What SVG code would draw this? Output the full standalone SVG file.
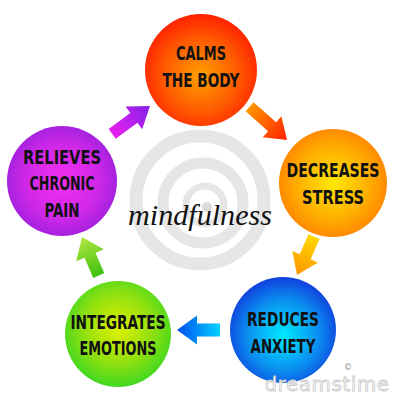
<svg xmlns="http://www.w3.org/2000/svg" width="400" height="400" viewBox="0 0 400 400">
<defs>
<radialGradient id="gRed" cx="0.5" cy="0.55" r="0.55"><stop offset="0" stop-color="#ffa000"/><stop offset="0.6" stop-color="#ff5a00"/><stop offset="1" stop-color="#ff2200"/></radialGradient>
<radialGradient id="gOrange" cx="0.5" cy="0.5" r="0.55"><stop offset="0" stop-color="#ffe800"/><stop offset="0.6" stop-color="#ffae00"/><stop offset="1" stop-color="#ff8000"/></radialGradient>
<radialGradient id="gBlue" cx="0.5" cy="0.55" r="0.55"><stop offset="0" stop-color="#00eaff"/><stop offset="0.6" stop-color="#0a90f0"/><stop offset="1" stop-color="#1040dd"/></radialGradient>
<radialGradient id="gGreen" cx="0.5" cy="0.45" r="0.55"><stop offset="0" stop-color="#e0f000"/><stop offset="0.6" stop-color="#90e010"/><stop offset="1" stop-color="#40d820"/></radialGradient>
<radialGradient id="gPurple" cx="0.5" cy="0.5" r="0.55"><stop offset="0" stop-color="#f430f0"/><stop offset="0.6" stop-color="#d028e8"/><stop offset="1" stop-color="#9a20dc"/></radialGradient>
<linearGradient id="aPurple" x1="0" y1="0" x2="1" y2="0"><stop offset="0" stop-color="#e820f0"/><stop offset="1" stop-color="#8420e8"/></linearGradient>
<linearGradient id="aRed" x1="0" y1="0" x2="1" y2="0"><stop offset="0" stop-color="#ff9600"/><stop offset="1" stop-color="#ff2000"/></linearGradient>
<linearGradient id="aYellow" x1="0" y1="0" x2="1" y2="0"><stop offset="0" stop-color="#ffd800"/><stop offset="1" stop-color="#ff9400"/></linearGradient>
<linearGradient id="aBlue" x1="0" y1="0" x2="1" y2="0"><stop offset="0" stop-color="#00d0ff"/><stop offset="1" stop-color="#0050ee"/></linearGradient>
<linearGradient id="aGreen" x1="0" y1="0" x2="1" y2="0"><stop offset="0" stop-color="#40c010"/><stop offset="1" stop-color="#b0e840"/></linearGradient>
</defs>
<style>
.lbl{font-family:"Liberation Sans Narrow","DejaVu Sans Condensed","Liberation Sans",sans-serif;font-weight:bold;font-size:19px;fill:#111;text-anchor:middle;font-stretch:condensed}
.ring{fill:none;stroke:#e6e6e6}
</style>
<rect width="400" height="400" fill="#ffffff"/>
<g id="background-spiral">
<circle class="ring" cx="200" cy="200" r="64" stroke-width="13"/>
<circle class="ring" cx="203" cy="203" r="40" stroke-width="11"/>
<circle class="ring" cx="205" cy="205" r="19" stroke-width="7"/>
<circle cx="207" cy="207" r="5" fill="#dadada"/>
</g>
<g id="connectors">
<path d="M-47,-6 L-20,-6 L-20,-14 L0,0 L-20,14 L-20,6 L-47,6 Z" fill="url(#aPurple)" transform="translate(150,106) rotate(-36.4)"/>
<path d="M-50,-6 L-20,-6 L-20,-14 L0,0 L-20,14 L-20,6 L-50,6 Z" fill="url(#aRed)" transform="translate(287,140) rotate(41.7)"/>
<path d="M-42,-6 L-20,-6 L-20,-14 L0,0 L-20,14 L-20,6 L-42,6 Z" fill="url(#aYellow)" transform="translate(297,275) rotate(114)"/>
<path d="M-43,-6.5 L-20,-6.5 L-20,-14.5 L0,0 L-20,14.5 L-20,6.5 L-43,6.5 Z" fill="url(#aBlue)" transform="translate(177,330) rotate(180)"/>
<path d="M-42,-6 L-20,-6 L-20,-15 L0,0 L-20,15 L-20,6 L-42,6 Z" fill="url(#aGreen)" transform="translate(82,237) rotate(-113.5)"/>
</g>
<g id="calms">
<circle cx="201" cy="70" r="56" fill="url(#gRed)"/>
<text class="lbl" x="201" y="60" textLength="50" lengthAdjust="spacingAndGlyphs">CALMS</text>
<text class="lbl" x="201" y="87" textLength="77" lengthAdjust="spacingAndGlyphs">THE BODY</text>
</g>
<g id="decreases">
<circle cx="333" cy="183" r="54" fill="url(#gOrange)"/>
<text class="lbl" x="333" y="177" textLength="93" lengthAdjust="spacingAndGlyphs">DECREASES</text>
<text class="lbl" x="333" y="204" textLength="62" lengthAdjust="spacingAndGlyphs">STRESS</text>
</g>
<g id="reduces">
<circle cx="283" cy="330" r="53" fill="url(#gBlue)"/>
<text class="lbl" x="283" y="326" textLength="72" lengthAdjust="spacingAndGlyphs">REDUCES</text>
<text class="lbl" x="283" y="353" textLength="65" lengthAdjust="spacingAndGlyphs">ANXIETY</text>
</g>
<g id="integrates">
<circle cx="118" cy="334" r="53" fill="url(#gGreen)"/>
<text class="lbl" x="118" y="329" textLength="95" lengthAdjust="spacingAndGlyphs">INTEGRATES</text>
<text class="lbl" x="118" y="355" textLength="77" lengthAdjust="spacingAndGlyphs">EMOTIONS</text>
</g>
<g id="relieves">
<circle cx="62" cy="181" r="55" fill="url(#gPurple)"/>
<text class="lbl" x="62" y="164" textLength="78" lengthAdjust="spacingAndGlyphs">RELIEVES</text>
<text class="lbl" x="62" y="190" textLength="65" lengthAdjust="spacingAndGlyphs">CHRONIC</text>
<text class="lbl" x="62" y="217" textLength="35" lengthAdjust="spacingAndGlyphs">PAIN</text>
</g>
<text x="200" y="225" font-family="'Liberation Serif','DejaVu Serif',serif" font-style="italic" font-size="29" fill="#111" text-anchor="middle" textLength="144" lengthAdjust="spacingAndGlyphs">mindfulness</text>
<text x="327" y="391" font-family="'DejaVu Sans','Liberation Sans',sans-serif" font-size="20" fill="#ffffff" stroke="#c8c8c8" stroke-width="0.8" text-anchor="middle" letter-spacing="0.5">dreamstime</text>
<text x="344" y="370" font-family="'DejaVu Sans',sans-serif" font-size="8" fill="#ffffff" stroke="#c0c0c0" stroke-width="0.5">©</text>
</svg>
